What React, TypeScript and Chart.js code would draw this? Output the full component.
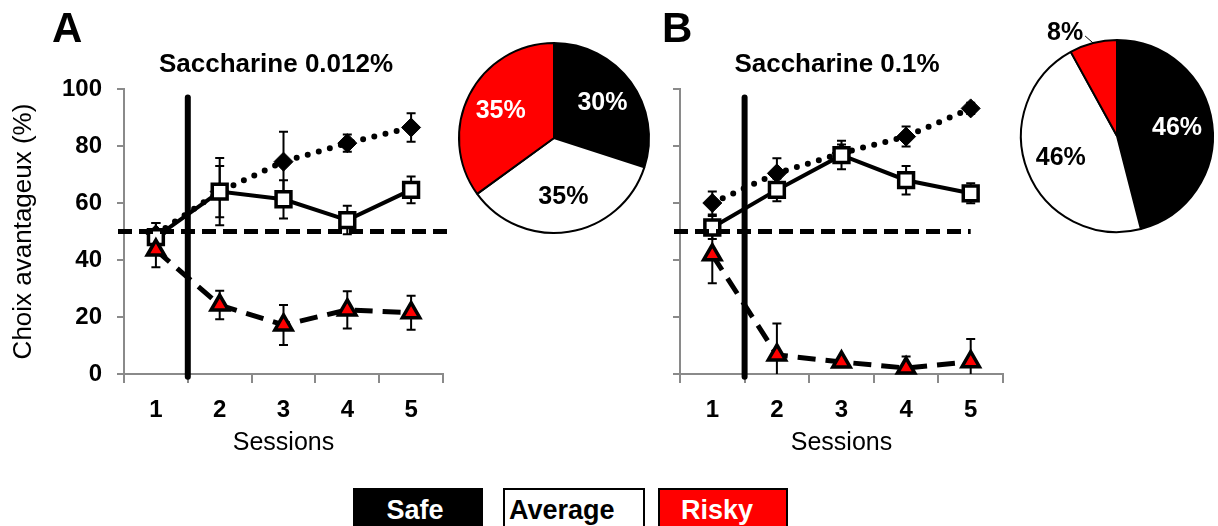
import React, { useEffect, useRef } from 'react';
import { Chart, registerables } from 'chart.js';

Chart.register(...registerables);

const FONT = '"Liberation Sans", Arial, Helvetica, sans-serif';

// ---------- data ----------
const sessions = ['1', '2', '3', '4', '5'];
const yMin = 0;
const yMax = 100;
const yStep = 20;
const chanceLevel = 50;
const dividerTopValue = 97;
const dividerBottomValue = -1;

const yTitle = 'Choix avantageux (%)';
const xTitle = 'Sessions';

// Panel A
const titleA = 'Saccharine 0.012%';
const safeA = [49, 64, 74.5, 81, 86.5];
const safeAErr = [4, 9, 10.5, 3, 5];
const avgA = [48, 64, 61.3, 54, 64.6];
const avgAErr = [5, 11.8, 6.7, 5, 4.7];
const riskyA = [43.5, 24.2, 17.2, 22.5, 21.5];
const riskyAErr = [6, 5, 7, 6.5, 6];

// Panel B
const titleB = 'Saccharine 0.1%';
const safeB = [60, 70.4, 77.5, 83.3, 93.2];
const safeBErr = [4, 5.3, 3, 3.5, 2];
const avgB = [51.4, 64.6, 76.8, 68, 63.4];
const avgBErr = [4, 4, 5, 5, 3.5];
const riskyB = [41.8, 6.7, 4.2, 2.1, 4.3];
const riskyBErr = [10, 11, 1, 4, 8];

// Pies
const profileLabels = ['Safe', 'Average', 'Risky'];
const pieAValues = [30, 35, 35];
const pieBValues = [46, 46, 8];
const profileColors = ['#000000', '#ffffff', '#ff0000'];
const profileTextColors = ['#ffffff', '#000000', '#ffffff'];

// ---------- plugins ----------
function overlayPlugin(errs: number[][], chanceToLast: boolean) {
  return {
    id: 'overlay',
    beforeDatasetsDraw(chart: any) {
      const { ctx, chartArea } = chart;
      const y = chart.scales.y;
      ctx.save();
      ctx.beginPath();
      ctx.rect(chartArea.left - 20, chartArea.top - 20, chartArea.right - chartArea.left + 40, chartArea.bottom - chartArea.top + 20);
      ctx.clip();
      ctx.strokeStyle = '#000';
      ctx.lineWidth = 2;
      ctx.setLineDash([]);
      chart.data.datasets.forEach((ds: any, i: number) => {
        const meta = chart.getDatasetMeta(i);
        ds.data.forEach((v: number, j: number) => {
          const e = errs[i][j];
          const px = meta.data[j].x;
          const t = y.getPixelForValue(v + e);
          const b = y.getPixelForValue(v - e);
          ctx.beginPath();
          ctx.moveTo(px, t);
          ctx.lineTo(px, b);
          ctx.moveTo(px - 4.5, t);
          ctx.lineTo(px + 4.5, t);
          ctx.moveTo(px - 4.5, b);
          ctx.lineTo(px + 4.5, b);
          ctx.stroke();
        });
      });
      ctx.restore();
    },
    afterDatasetsDraw(chart: any) {
      const { ctx, chartArea } = chart;
      const x = chart.scales.x;
      const y = chart.scales.y;
      ctx.save();
      const yc = y.getPixelForValue(chanceLevel);
      const x0 = chartArea.left - 6;
      const x1 = chanceToLast ? x.getPixelForValue(sessions.length - 1) : chartArea.right + 4;
      ctx.strokeStyle = '#000';
      ctx.lineWidth = 5;
      ctx.lineCap = 'butt';
      ctx.setLineDash([14, 7]);
      ctx.beginPath();
      ctx.moveTo(x0, yc);
      ctx.lineTo(x1, yc);
      ctx.stroke();
      const xd = (x.getPixelForValue(0) + x.getPixelForValue(1)) / 2;
      ctx.setLineDash([]);
      ctx.lineWidth = 6;
      ctx.lineCap = 'round';
      ctx.beginPath();
      ctx.moveTo(xd, y.getPixelForValue(dividerTopValue));
      ctx.lineTo(xd, y.getPixelForValue(dividerBottomValue));
      ctx.stroke();
      ctx.restore();
    },
  };
}

const pieLabelPlugin = {
  id: 'pieLabels',
  afterDatasetsDraw(chart: any) {
    const { ctx } = chart;
    const meta = chart.getDatasetMeta(0);
    const vals = chart.data.datasets[0].data;
    ctx.save();
    ctx.font = `bold 25px ${FONT}`;
    meta.data.forEach((arc: any, i: number) => {
      const { x, y, startAngle, endAngle, outerRadius } = arc.getProps(['x', 'y', 'startAngle', 'endAngle', 'outerRadius'], true);
      const mid = (startAngle + endAngle) / 2;
      const text = `${vals[i]}%`;
      if (vals[i] < 10) {
        const ex = x + Math.cos(mid) * outerRadius;
        const ey = y + Math.sin(mid) * outerRadius;
        ctx.strokeStyle = '#000';
        ctx.lineWidth = 1;
        ctx.beginPath();
        ctx.moveTo(ex, ey);
        ctx.lineTo(ex - 8, ey - 7);
        ctx.stroke();
        ctx.fillStyle = '#000';
        ctx.textAlign = 'right';
        ctx.textBaseline = 'middle';
        ctx.fillText(text, ex - 10, ey - 10);
      } else {
        const r = outerRadius * 0.63;
        ctx.fillStyle = profileTextColors[i];
        ctx.textAlign = 'center';
        ctx.textBaseline = 'middle';
        ctx.fillText(text, x + Math.cos(mid) * r, y + Math.sin(mid) * r);
      }
    });
    ctx.restore();
  },
};

// ---------- configs ----------
function lineConfig(p: any) {
  const grey = '#8a8a8a';
  return {
    type: 'line',
    data: {
      labels: sessions,
      datasets: [
        {
          label: 'Risky', data: p.risky, borderColor: '#000', borderWidth: 5, borderDash: [18, 10],
          pointStyle: 'triangle', pointRadius: 10, pointBackgroundColor: '#ff0000', pointBorderColor: '#000',
          pointBorderWidth: 3.5, tension: 0, fill: false, clip: false,
        },
        {
          label: 'Average', data: p.avg, borderColor: '#000', borderWidth: 4,
          pointStyle: 'rect', pointRadius: 10.5, pointBackgroundColor: '#fff', pointBorderColor: '#000',
          pointBorderWidth: 3.5, tension: 0, fill: false, clip: false,
        },
        {
          label: 'Safe', data: p.safe, borderColor: '#000', borderWidth: 6, borderDash: [0, 11.5], borderCapStyle: 'round',
          pointStyle: 'rectRot', pointRadius: 9.5, pointBackgroundColor: '#000', pointBorderColor: '#000',
          pointBorderWidth: 1, tension: 0, fill: false, clip: false,
        },
      ],
    },
    options: {
      animation: false,
      responsive: false,
      maintainAspectRatio: false,
      events: [],
      layout: { padding: { top: 89, right: p.padRight, left: 0, bottom: 0 } },
      plugins: { legend: { display: false }, tooltip: { enabled: false }, title: { display: false } },
      scales: {
        x: {
          type: 'category',
          offset: true,
          grid: { offset: true, drawOnChartArea: false, drawTicks: true, tickLength: 9, color: grey, lineWidth: 2 },
          border: { color: grey, width: 2 },
          ticks: { color: '#000', font: { family: FONT, size: 24, weight: 'bold' }, padding: 13, maxRotation: 0 },
          title: { display: true, text: xTitle, color: '#000', font: { family: FONT, size: 25 }, padding: { top: 0, bottom: 12 } },
          afterFit: (s: any) => { s.height = 96; },
        },
        y: {
          min: yMin,
          max: yMax,
          grid: { drawOnChartArea: false, drawTicks: true, tickLength: 7, color: grey, lineWidth: 2 },
          border: { color: grey, width: 2 },
          ticks: { display: p.showY, stepSize: yStep, color: '#000', font: { family: FONT, size: 24, weight: 'bold' }, padding: 15 },
          title: { display: p.showY, text: yTitle, color: '#000', font: { family: FONT, size: 26 }, padding: { top: 8, bottom: 0 } },
          afterFit: (s: any) => { s.width = p.yWidth; },
        },
      },
    },
    plugins: [overlayPlugin([p.riskyErr, p.avgErr, p.safeErr], p.chanceToLast)],
  };
}

function pieConfig(values: number[], padding: any) {
  return {
    type: 'pie',
    data: {
      labels: profileLabels,
      datasets: [{ data: values, backgroundColor: profileColors, borderColor: '#000', borderWidth: 2, hoverOffset: 0 }],
    },
    options: {
      animation: false,
      responsive: false,
      events: [],
      layout: { padding },
      plugins: { legend: { display: false }, tooltip: { enabled: false } },
    },
    plugins: [pieLabelPlugin],
  };
}

// ---------- component ----------
export default function App() {
  const lineARef = useRef<HTMLCanvasElement>(null);
  const lineBRef = useRef<HTMLCanvasElement>(null);
  const pieARef = useRef<HTMLCanvasElement>(null);
  const pieBRef = useRef<HTMLCanvasElement>(null);

  useEffect(() => {
    const charts: Chart[] = [];
    charts.push(new Chart(lineARef.current as any, lineConfig({
      safe: safeA, safeErr: safeAErr, avg: avgA, avgErr: avgAErr, risky: riskyA, riskyErr: riskyAErr,
      showY: true, yWidth: 124, padRight: 17, chanceToLast: false,
    }) as any));
    charts.push(new Chart(lineBRef.current as any, lineConfig({
      safe: safeB, safeErr: safeBErr, avg: avgB, avgErr: avgBErr, risky: riskyB, riskyErr: riskyBErr,
      showY: false, yWidth: 40, padRight: 17, chanceToLast: true,
    }) as any));
    charts.push(new Chart(pieARef.current as any, pieConfig(pieAValues, { left: 28, right: 30, top: 42, bottom: 26 }) as any));
    charts.push(new Chart(pieBRef.current as any, pieConfig(pieBValues, { left: 20, right: 4, top: 39, bottom: 27 }) as any));
    return () => charts.forEach((c) => c.destroy());
  }, []);

  const abs = (l: number, t: number, w: number, h: number): React.CSSProperties => ({
    position: 'absolute', left: l, top: t, width: w, height: h,
  });

  const textBase: React.CSSProperties = { position: 'absolute', fontFamily: FONT, fontWeight: 'bold', color: '#000', whiteSpace: 'nowrap' };

  return (
    <div style={{ position: 'absolute', left: 0, top: 0, width: 1218, height: 526, overflow: 'hidden', background: '#fff' }}>
      <canvas ref={lineARef} width={460} height={470} style={abs(0, 0, 460, 470)} />
      <canvas ref={pieARef} width={250} height={260} style={abs(430, 0, 250, 260)} />
      <canvas ref={lineBRef} width={380} height={470} style={abs(640, 0, 380, 470)} />
      <canvas ref={pieBRef} width={218} height={260} style={abs(1000, 0, 218, 260)} />

      <div style={{ ...textBase, left: 52, top: 7, fontSize: 42, lineHeight: '42px' }}>A</div>
      <div style={{ ...textBase, left: 662, top: 7, fontSize: 42, lineHeight: '42px' }}>B</div>
      <div style={{ ...textBase, left: 126, top: 50, width: 300, textAlign: 'center', fontSize: 26, lineHeight: '26px' }}>{titleA}</div>
      <div style={{ ...textBase, left: 687, top: 50, width: 300, textAlign: 'center', fontSize: 26, lineHeight: '26px' }}>{titleB}</div>

      <div style={{ ...textBase, left: 353, top: 488, width: 124, height: 40, background: '#000', color: '#fff', fontSize: 27, lineHeight: '27px', paddingTop: 9, paddingRight: 6, textAlign: 'center' }}>{profileLabels[0]}</div>
      <div style={{ ...textBase, left: 503, top: 488, width: 134, height: 40, background: '#fff', border: '2px solid #000', fontSize: 27, lineHeight: '27px', paddingTop: 7, paddingLeft: 4, textAlign: 'left', boxSizing: 'content-box' }}>{profileLabels[1]}</div>
      <div style={{ ...textBase, left: 658, top: 488, width: 114, height: 40, background: '#ff0000', border: '2px solid #000', color: '#fff', fontSize: 27, lineHeight: '27px', paddingTop: 7, paddingRight: 12, textAlign: 'center' }}>{profileLabels[2]}</div>
    </div>
  );
}
